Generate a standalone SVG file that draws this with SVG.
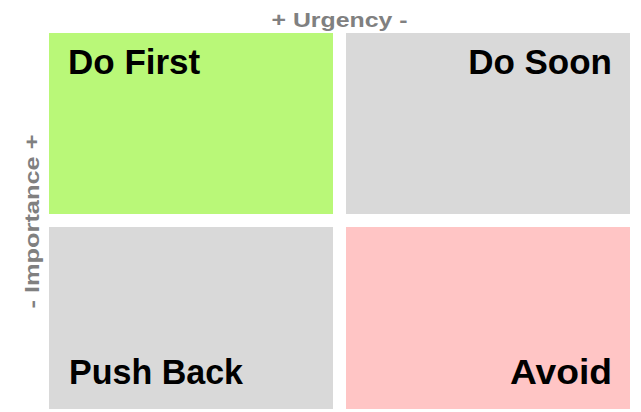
<svg xmlns="http://www.w3.org/2000/svg" width="641" height="412" viewBox="0 0 641 412">
<style>
.q{font-family:"Liberation Sans",Arial,sans-serif;font-weight:bold;font-size:35px;fill:#000}
.ax{font-family:"Liberation Sans",Arial,sans-serif;font-weight:bold;font-size:19.5px;fill:#808080}
</style>
<rect width="641" height="412" fill="#ffffff"/>
<g id="do-first">
<rect x="49" y="33" width="284" height="181" fill="#b9f878"/>
<text class="q" x="68" y="73.5">Do First</text>
</g>
<g id="do-soon">
<rect x="346" y="33" width="284" height="181" fill="#d9d9d9"/>
<text class="q" x="612" y="73.5" text-anchor="end">Do Soon</text>
</g>
<g id="push-back">
<rect x="49" y="227" width="284" height="182" fill="#d9d9d9"/>
<text class="q" x="69" y="384" textLength="174" lengthAdjust="spacingAndGlyphs">Push Back</text>
</g>
<g id="avoid">
<rect x="346" y="227" width="284" height="182" fill="#ffc5c5"/>
<text class="q" x="510" y="384" textLength="102" lengthAdjust="spacingAndGlyphs">Avoid</text>
</g>
<g id="axis-urgency">
<text class="ax" x="271.5" y="26.5" textLength="136" lengthAdjust="spacingAndGlyphs">+ Urgency -</text>
</g>
<g id="axis-importance">
<text class="ax" x="0" y="0" textLength="174" lengthAdjust="spacingAndGlyphs" transform="translate(38.5,308.5) rotate(-90)">- Importance +</text>
</g>
<g id="connectors"></g>
</svg>
